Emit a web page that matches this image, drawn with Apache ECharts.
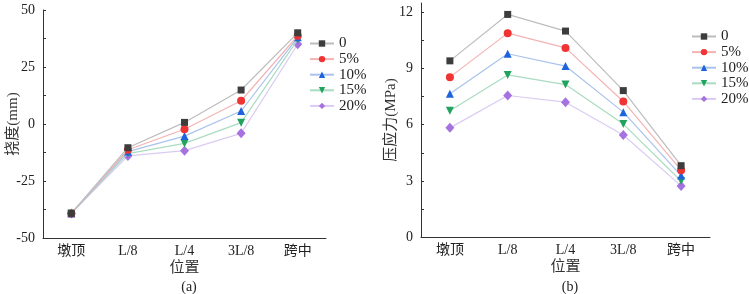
<!DOCTYPE html>
<html>
<head>
<meta charset="utf-8">
<script src="https://cdn.jsdelivr.net/npm/echarts@6/dist/echarts.min.js"></script>
<style>
  html, body { margin: 0; padding: 0; background: #fff; }
  #chart { width: 749px; height: 294px; }
</style>
</head>
<body>
<div id="chart"></div>
<script>
// categories
let positions = ['墩顶', 'L/8', 'L/4', '3L/8', '跨中'];
let names = ['0', '5%', '10%', '15%', '20%'];

// (a) deflection, mm
let defl0 = [-39.2, -10.4, 0.7, 14.9, 40.0];
let defl5 = [-39.2, -11.3, -2.3, 10.2, 38.7];
let defl10 = [-39.2, -12.1, -5.3, 5.7, 38.0];
let defl15 = [-39.2, -13.0, -8.5, 0.6, 37.0];
let defl20 = [-39.2, -14.0, -11.7, -4.1, 35.0];

// (b) compressive stress, MPa
let strs0 = [9.41, 11.89, 11.0, 7.82, 3.81];
let strs5 = [8.54, 10.89, 10.1, 7.24, 3.57];
let strs10 = [7.65, 9.79, 9.13, 6.67, 3.28];
let strs15 = [6.74, 8.66, 8.14, 6.03, 2.99];
let strs20 = [5.83, 7.56, 7.2, 5.45, 2.73];

// tick labels
let ticksA = [-50, -25, 0, 25, 50];
let ticksAall = [-50, -37.5, -25, -12.5, 0, 12.5, 25, 37.5, 50];
let ticksB = [0, 3, 6, 9, 12];
let ticksBall = [0, 1.5, 3, 4.5, 6, 7.5, 9, 10.5, 12];

let markColor = ['#3d3d3d', '#f03434', '#1c63dd', '#21a35f', '#a672e0'];
let lineColor = ['#bdbdbd', '#f4b3b3', '#a9c3ec', '#a9dcc1', '#dacbf2'];
let symbols = ['rect', 'circle', 'triangle', 'triangle', 'diamond'];
let rots = [0, 0, 0, 180, 0];
let sizes = [7, 8, 8, 8, [9, 10]];

const serif = '"Liberation Serif", "Times New Roman", "Noto Sans CJK SC", serif';
const axCol = '#333';

function mkX(grid) {
  return {
    type: 'category', gridIndex: grid, data: positions, boundaryGap: true,
    name: '位置', nameLocation: 'middle', nameGap: 23, nameMoveOverlap: false,
    nameTextStyle: { fontFamily: serif, fontSize: 15, color: '#333' },
    axisLine: { onZero: false, lineStyle: { color: axCol, width: 1 } },
    axisTick: { inside: true, alignWithLabel: true, length: 4, lineStyle: { color: axCol } },
    axisLabel: { fontFamily: serif, fontSize: 14, color: '#222', margin: 6 },
    splitLine: { show: false }
  };
}

function mkY(grid, name, min, max, ticks, all, gap) {
  return {
    type: 'value', gridIndex: grid, min: min, max: max,
    name: name, nameLocation: 'middle', nameGap: gap, nameMoveOverlap: false,
    nameTextStyle: { fontFamily: serif, fontSize: 15, color: '#333' },
    axisLine: { show: true, onZero: false, lineStyle: { color: axCol, width: 1 } },
    axisTick: { show: true, inside: true, length: 3, customValues: all, lineStyle: { color: axCol } },
    axisLabel: { fontFamily: serif, fontSize: 14, color: '#222', margin: 8, customValues: ticks },
    splitLine: { show: false }
  };
}

function mkSeries(vals, idx) {
  return vals.map((d, i) => ({
    name: names[i], type: 'line', data: d,
    xAxisIndex: idx, yAxisIndex: idx,
    symbol: symbols[i], symbolSize: sizes[i], symbolRotate: rots[i],
    showAllSymbol: true,
    itemStyle: { color: markColor[i] },
    lineStyle: { color: lineColor[i], width: 1.2 },
    emphasis: { disabled: true },
    z: 10 - i
  }));
}

function mkLegend(left, top) {
  return {
    orient: 'vertical', left: left, top: top, itemGap: 0.6,
    itemWidth: 24, itemHeight: 8, data: names,
    textStyle: { fontFamily: serif, fontSize: 15, lineHeight: 14, color: '#222' },
    selectedMode: false
  };
}

let chart = echarts.init(document.getElementById('chart'), null, { renderer: 'canvas' });

chart.setOption({
  animation: false,
  backgroundColor: '#fff',
  title: [
    { text: '(a)', left: 184, top: 275, textAlign: 'center', textStyle: { fontFamily: serif, fontSize: 14, fontWeight: 'normal', color: '#222' } },
    { text: '(b)', left: 565, top: 275, textAlign: 'center', textStyle: { fontFamily: serif, fontSize: 14, fontWeight: 'normal', color: '#222' } }
  ],
  grid: [
    { left: 43, right: 423, top: 10, bottom: 56 },
    { left: 421, right: 39, top: 3, bottom: 57 }
  ],
  legend: [
    mkLegend(304, 31),
    mkLegend(686, 24)
  ],
  xAxis: [mkX(0), mkX(1)],
  yAxis: [
    mkY(0, '挠度(mm)', -50, 50, ticksA, ticksAall, 22),
    mkY(1, '压应力(MPa)', 0, 12.5, ticksB, ticksBall, 22)
  ],
  series: mkSeries([defl0, defl5, defl10, defl15, defl20], 0)
    .concat(mkSeries([strs0, strs5, strs10, strs15, strs20], 1))
});
</script>
</body>
</html>
